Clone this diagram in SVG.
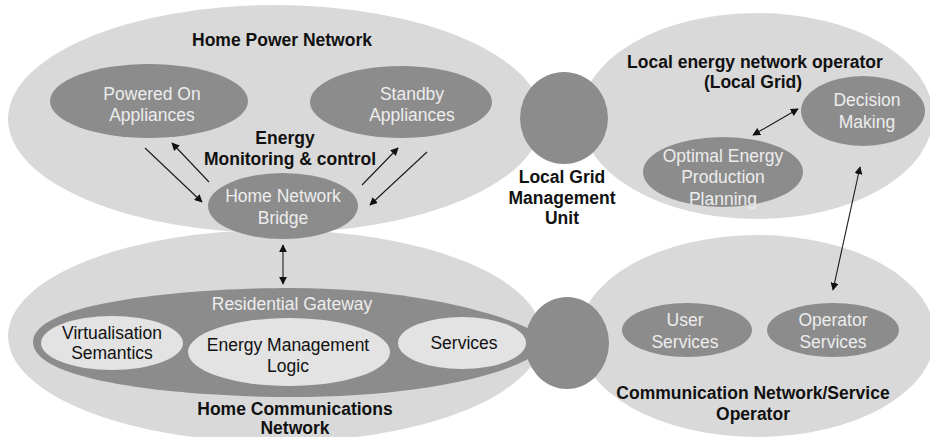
<svg xmlns="http://www.w3.org/2000/svg" width="930" height="437" viewBox="0 0 930 437">
<defs>
<style>
.big{fill:#d9d9d9;}
.dark{fill:#8c8c8c;}
.inner{fill:#e3e3e3;}
.t{font-family:"Liberation Sans",Arial,sans-serif;text-anchor:middle;dominant-baseline:central;}
.title{font-size:17.5px;font-weight:bold;fill:#111;}
.wt{font-size:17.5px;fill:#ededed;}
.bt{font-size:17.5px;fill:#111;}
.ln{stroke:#1a1a1a;stroke-width:1.1;fill:none;}
</style>
<marker id="ah" viewBox="0 0 10 10" refX="9" refY="5" markerWidth="8" markerHeight="8" markerUnits="userSpaceOnUse" orient="auto-start-reverse">
<path d="M0,0 L10,5 L0,10 z" fill="#111"/>
</marker>
</defs>
<rect width="930" height="437" fill="#ffffff"/>

<g id="home-power-network">
<ellipse class="big" cx="275" cy="119" rx="267" ry="114"/>
<text class="t title" x="282" y="40">Home Power Network</text>
</g>
<g id="home-communications-network">
<ellipse class="big" cx="275" cy="336" rx="267" ry="106"/>
<text class="t title" x="295" y="409">Home Communications</text>
<text class="t title" x="295" y="428">Network</text>
</g>
<g id="local-energy-network-operator">
<ellipse class="big" cx="757" cy="116" rx="176" ry="103"/>
<text class="t title" x="755" y="62">Local energy network operator</text>
<text class="t title" x="753" y="82">(Local Grid)</text>
</g>
<g id="communication-network-operator">
<ellipse class="big" cx="757" cy="336" rx="178" ry="101"/>
<text class="t title" x="753" y="393">Communication Network/Service</text>
<text class="t title" x="753" y="414">Operator</text>
</g>

<g id="local-grid-management-unit">
<ellipse class="dark" cx="564" cy="118" rx="44" ry="46"/>
<text class="t title" x="562" y="177">Local Grid</text>
<text class="t title" x="562" y="198">Management</text>
<text class="t title" x="562" y="218">Unit</text>
</g>
<g id="bottom-connector-unit">
<ellipse class="dark" cx="567" cy="343" rx="42" ry="46"/>
</g>

<g id="powered-on-appliances">
<ellipse class="dark" cx="149" cy="101" rx="99" ry="37"/>
<text class="t wt" x="152" y="94">Powered On</text>
<text class="t wt" x="152" y="115">Appliances</text>
</g>
<g id="standby-appliances">
<ellipse class="dark" cx="401" cy="102" rx="91" ry="36"/>
<text class="t wt" x="412" y="94">Standby</text>
<text class="t wt" x="412" y="115">Appliances</text>
</g>
<g id="energy-monitoring-label">
<text class="t title" x="285" y="138">Energy</text>
<text class="t title" x="290" y="159">Monitoring &amp; control</text>
</g>
<g id="home-network-bridge">
<ellipse class="dark" cx="283" cy="206" rx="75" ry="33"/>
<text class="t wt" x="283" y="196">Home Network</text>
<text class="t wt" x="283" y="218">Bridge</text>
</g>

<g id="residential-gateway">
<path class="dark" d="M33,342 C33,300 200,288 292,288 C400,288 500,310 540,335 L540,352 C500,380 400,397 292,397 C200,397 33,385 33,342 z"/>
<text class="t wt" x="292" y="304">Residential Gateway</text>
</g>
<g id="virtualisation-semantics">
<ellipse class="inner" cx="112" cy="343" rx="71" ry="27"/>
<text class="t bt" x="112" y="333">Virtualisation</text>
<text class="t bt" x="112" y="353">Semantics</text>
</g>
<g id="energy-management-logic">
<ellipse class="inner" cx="289" cy="352" rx="101" ry="34"/>
<text class="t bt" x="288" y="345">Energy Management</text>
<text class="t bt" x="288" y="366">Logic</text>
</g>
<g id="services">
<ellipse class="inner" cx="462" cy="343" rx="64" ry="26"/>
<text class="t bt" x="464" y="343">Services</text>
</g>

<g id="decision-making">
<ellipse class="dark" cx="863" cy="111" rx="62" ry="35"/>
<text class="t wt" x="867" y="100">Decision</text>
<text class="t wt" x="867" y="122">Making</text>
</g>
<g id="optimal-energy-production-planning">
<ellipse class="dark" cx="723" cy="172" rx="80" ry="35"/>
<text class="t wt" x="723" y="156">Optimal Energy</text>
<text class="t wt" x="723" y="177">Production</text>
<text class="t wt" x="723" y="199">Planning</text>
</g>
<g id="user-services">
<ellipse class="dark" cx="687" cy="330" rx="65" ry="27"/>
<text class="t wt" x="685" y="320">User</text>
<text class="t wt" x="685" y="342">Services</text>
</g>
<g id="operator-services">
<ellipse class="dark" cx="833" cy="330" rx="66" ry="27"/>
<text class="t wt" x="833" y="320">Operator</text>
<text class="t wt" x="833" y="342">Services</text>
</g>

<g id="connectors">
<line class="ln" x1="145" y1="148" x2="202" y2="202" marker-end="url(#ah)"/>
<line class="ln" x1="209" y1="182" x2="172" y2="143" marker-end="url(#ah)"/>
<line class="ln" x1="362" y1="185" x2="398" y2="148" marker-end="url(#ah)"/>
<line class="ln" x1="427" y1="152" x2="370" y2="205" marker-end="url(#ah)"/>
<line class="ln" x1="283" y1="245" x2="283" y2="284" marker-start="url(#ah)" marker-end="url(#ah)"/>
<line class="ln" x1="753" y1="135" x2="798" y2="109" marker-start="url(#ah)" marker-end="url(#ah)"/>
<line class="ln" x1="860" y1="167" x2="833" y2="290" marker-start="url(#ah)" marker-end="url(#ah)"/>
</g>
</svg>
